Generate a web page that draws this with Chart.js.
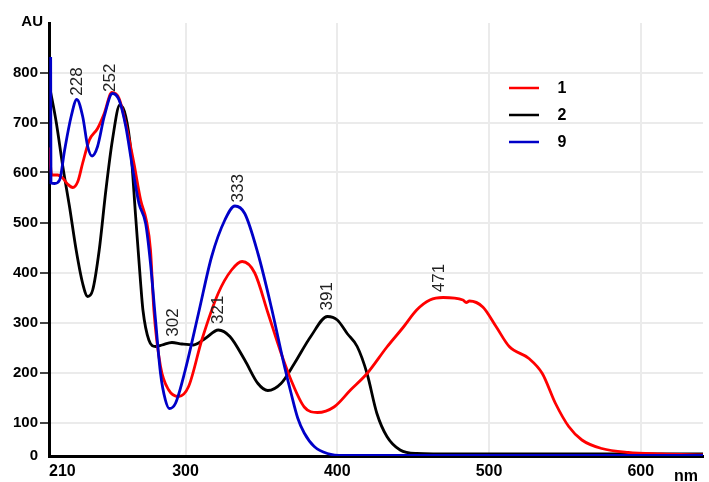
<!DOCTYPE html>
<html>
<head>
<meta charset="utf-8">
<script src="https://cdn.jsdelivr.net/npm/chart.js@4.4.0/dist/chart.umd.min.js"></script>
<style>
    html, body { margin: 0; padding: 0; background: #fff; }
</style>
</head>
<body>
<canvas id="myChart" width="709" height="482"></canvas>
<script>
// spectra: wavelength (nm) and absorbance (AU)
var nm1 = [210.1, 211.8, 215.7, 219.0, 222.2, 225.7, 229.0, 232.2, 236.6, 242.0, 246.4, 251.4, 256.2, 261.0, 266.0, 270.4,
    274.1, 276.9, 279.1, 283.5, 288.9, 295.4, 302.0, 310.7, 321.6, 330.3, 337.3, 345.6, 354.3, 362.9, 369.5, 378.2,
    386.9, 397.8, 408.7, 419.6, 432.7, 443.6, 452.3, 461.0, 469.7, 482.8, 485.0, 487.1, 495.9, 504.6, 513.3, 526.3,
    535.1, 543.8, 552.5, 561.2, 574.3, 591.7, 613.5, 641];
var au1 = [650, 595, 595, 589, 577, 570, 582, 619, 665, 688, 718, 760, 748, 692, 618, 545,
    505, 445, 325, 212, 165, 152, 172, 265, 359, 405, 422, 399, 319, 239, 185, 131,
    120, 131, 165, 198, 251, 291, 325, 345, 350, 345, 340, 343, 331, 292, 252, 228,
    198, 138, 92, 65, 48, 40, 37, 35];

var nm2 = [210.5, 214.8, 219.2, 223.5, 227.9, 232.2, 235.5, 238.8, 243.1, 247.5, 251.8, 256.7, 260.6, 263.9, 267.1, 270.4,
    271.9, 275.8, 280.2, 284.5, 291.0, 297.6, 305.2, 312.9, 321.6, 329.2, 339.0, 347.7, 354.2, 362.9, 371.7, 382.5,
    393.5, 400.0, 406.5, 413.1, 419.6, 426.1, 432.7, 441.4, 452.2, 478.4, 641];
var au2 = [770, 700, 610, 532, 445, 378, 352, 365, 445, 565, 665, 735, 712, 645, 512, 378,
    325, 265, 252, 255, 260, 257, 255, 268, 285, 272, 225, 178, 164, 178, 218, 272,
    312, 305, 278, 252, 198, 118, 72, 45, 38, 37, 37];

var nm9 = [211.1, 211.3, 213.7, 217.0, 220.3, 224.6, 228.3, 232.2, 235.5, 238.4, 242.0, 246.4, 251.8, 256.2, 260.6, 264.9,
    269.3, 273.7, 276.9, 280.2, 283.5, 286.7, 289.3, 293.3, 299.8, 308.5, 317.2, 325.9, 332.5, 339.0, 347.7, 356.4,
    365.2, 369.5, 373.9, 378.2, 384.8, 393.5, 404.4, 641];
var au9 = [831, 579, 578, 585, 645, 712, 746, 712, 652, 633, 652, 712, 758, 745, 692, 612,
    538, 498, 418, 305, 198, 145, 128, 138, 205, 318, 432, 505, 533, 518, 438, 332,
    212, 159, 109, 79, 52, 38, 34, 34];

var seriesNames = ['1', '2', '9'];
var seriesColors = ['#ff0000', '#000000', '#0000c8'];

var xMin = 210, xMax = 641;
var xTickValues = [210, 300, 400, 500, 600, 641];
var xTickLabels = ['210', '300', '400', '500', '600', ''];

var yMin = 33, yMax = 899;
var yTickValues = [33, 100, 200, 300, 400, 500, 600, 700, 800];
var yTickLabels = ['0', '100', '200', '300', '400', '500', '600', '700', '800'];

// peak annotations: text, which series, wavelength where it sits
var peakText = ['228', '252', '302', '321', '333', '391', '471'];
var peakSeries = [2, 0, 1, 1, 2, 1, 0];
var peakX = [228.8, 250.1, 292.2, 321.6, 334.6, 393.5, 467.3];

var FONT = '"Liberation Sans", Arial, sans-serif';

var toPoints = function (xs, ys) {
    var out = [];
    for (var i = 0; i < xs.length; i++) out.push({ x: xs[i], y: ys[i] });
    return out;
};

var valueAt = function (pts, x) {
    for (var i = 1; i < pts.length; i++) {
        if (pts[i].x >= x) {
            var a = pts[i - 1], b = pts[i];
            return a.y + (b.y - a.y) * (x - a.x) / (b.x - a.x);
        }
    }
    return pts[pts.length - 1].y;
};

var extras = {
    id: 'extras',
    afterDatasetsDraw: function (chart) {
        var ctx = chart.ctx;
        var xs = chart.scales.x, ys = chart.scales.y;
        ctx.save();

        // peak labels, rotated
        ctx.font = '17px ' + FONT;
        ctx.fillStyle = '#222';
        ctx.textAlign = 'left';
        ctx.textBaseline = 'middle';
        for (var i = 0; i < peakText.length; i++) {
            var pts = chart.data.datasets[peakSeries[i]].data;
            var px = xs.getPixelForValue(peakX[i]);
            var py = ys.getPixelForValue(valueAt(pts, peakX[i])) - 6;
            ctx.save();
            ctx.translate(px, py);
            ctx.rotate(-Math.PI / 2);
            ctx.fillText(peakText[i], 0, 0);
            ctx.restore();
        }

        // legend
        ctx.font = 'bold 16px ' + FONT;
        ctx.textAlign = 'center';
        chart.data.datasets.forEach(function (ds, k) {
            var y = 88 + k * 27;
            ctx.strokeStyle = ds.borderColor;
            ctx.lineWidth = 2.5;
            ctx.beginPath();
            ctx.moveTo(509, y);
            ctx.lineTo(539, y);
            ctx.stroke();
            ctx.fillStyle = '#000';
            ctx.fillText(ds.label, 562, y + 1);
        });

        // axis units
        ctx.font = 'bold 15px ' + FONT;
        ctx.textAlign = 'right';
        ctx.fillText('AU', 43, 22);
        ctx.font = 'bold 16px ' + FONT;
        ctx.textAlign = 'left';
        ctx.fillText('nm', 674, 477);
        ctx.restore();
    }
};

var data = {
    datasets: [
        { label: seriesNames[0], data: toPoints(nm1, au1), borderColor: seriesColors[0], order: 1 },
        { label: seriesNames[1], data: toPoints(nm2, au2), borderColor: seriesColors[1], order: 2 },
        { label: seriesNames[2], data: toPoints(nm9, au9), borderColor: seriesColors[2], order: 0 }
    ]
};

var config = {
    type: 'line',
    data: data,
    options: {
        responsive: false,
        animation: false,
        layout: { padding: { top: 23, left: 0, right: 0, bottom: 0 } },
        plugins: { legend: { display: false }, tooltip: { enabled: false } },
        elements: {
            point: { radius: 0 },
            line: { borderWidth: 2.8, cubicInterpolationMode: 'monotone', fill: false }
        },
        scales: {
            x: {
                type: 'linear',
                min: xMin,
                max: xMax,
                afterBuildTicks: function (s) { s.ticks = xTickValues.map(function (v) { return { value: v }; }); },
                afterFit: function (s) { s.height = 26; },
                grid: {
                    drawTicks: false,
                    lineWidth: 2,
                    color: function (c) { return (c.tick && (c.tick.value === xMin || c.tick.value === xMax)) ? 'rgba(0,0,0,0)' : '#ebebeb'; }
                },
                border: { color: '#000', width: 3 },
                ticks: {
                    align: 'inner',
                    padding: 6,
                    autoSkip: false,
                    maxRotation: 0,
                    color: '#000',
                    font: { family: FONT, size: 16, weight: 'bold' },
                    callback: function (v, i) { return xTickLabels[i]; }
                }
            },
            y: {
                min: yMin,
                max: yMax,
                afterBuildTicks: function (s) { s.ticks = yTickValues.map(function (v) { return { value: v }; }); },
                afterFit: function (s) { s.width = 49; },
                grid: {
                    lineWidth: 2,
                    tickLength: 9,
                    color: function (c) { return (c.tick && c.tick.value === yMin) ? 'rgba(0,0,0,0)' : '#ebebeb'; },
                    tickColor: function (c) { return (c.tick && c.tick.value === yMin) ? 'rgba(0,0,0,0)' : '#444'; }
                },
                border: { color: '#000', width: 3 },
                ticks: {
                    padding: 2,
                    autoSkip: false,
                    color: '#000',
                    font: { family: FONT, size: 15, weight: 'bold' },
                    callback: function (v, i) { return yTickLabels[i]; }
                }
            }
        }
    },
    plugins: [extras]
};

var myChart = new Chart(document.getElementById('myChart'), config);
</script>
</body>
</html>
